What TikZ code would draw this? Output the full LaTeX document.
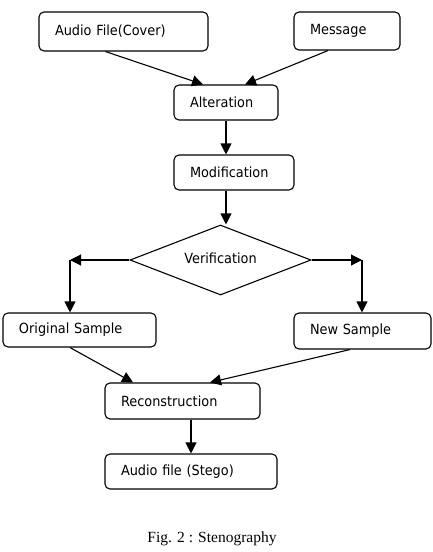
\documentclass[tikz,border=0pt]{standalone}
\usepackage{fontspec}
\setmainfont{Liberation Serif}
\newfontfamily\boxfont{DejaVu Sans}[FakeStretch=0.92]
\usepackage{tikz}
\usetikzlibrary{shapes.geometric, arrows.meta, calc}

\begin{document}
\begin{tikzpicture}[x=1pt, y=1pt,
        box/.style={draw, line width=1.1pt, rounded corners=5pt, inner xsep=16pt,
            inner ysep=0pt, text width=#1, align=left, minimum height=35pt,
            font=\boxfont\fontsize{14}{16}\selectfont},
        decision/.style={draw, line width=1.1pt, diamond, aspect=2.6, inner sep=0pt,
            minimum width=181pt, minimum height=70pt,
            font=\boxfont\fontsize{14}{16}\selectfont},
        arr/.style={line width=1.1pt, -{Triangle[length=11pt, width=11pt]}}]
    \useasboundingbox (0,0) rectangle (432,-552);
    % boxes
    \node[box=137pt, minimum height=39pt] (cover) at (123.5,-31.5) {Audio File(Cover)};
    \node[box=74pt, minimum height=38pt] (msg) at (347,-31) {Message};
    \node[box=72pt] (alter) at (226,-102.5) {Alteration};
    \node[box=88pt] (modif) at (234,-172.5) {Modification};
    \node[decision] (verif) at (220.5,-260) {\raisebox{4pt}{Verification}};
    \node[box=121pt, minimum height=34pt] (orig) at (79.5,-330) {\raisebox{-1.5pt}{Original Sample}};
    \node[box=105pt, minimum height=36pt] (newsam) at (362.5,-331) {New Sample};
    \node[box=123pt, minimum height=36pt] (recon) at (182.5,-401) {Reconstruction};
    \node[box=140pt] (stego) at (191,-471.5) {Audio file (Stego)};
    \node[font=\fontsize{15.5}{18}\selectfont] (cap) at (212,-539) {Fig. 2 : Stenography};
    \coordinate (lturn) at (70,-260);
    \coordinate (rturn) at (362,-260);
    % arrows
    \draw[arr] ([xshift=-18pt]cover.south) -- ([xshift=-23pt]alter.north);
    \draw[arr] ([xshift=-19pt]msg.south) -- ([xshift=19pt]alter.north);
    \draw[arr] (alter) -- (alter |- modif.north);
    \draw[arr] ([xshift=-8pt]modif.south) -- ([xshift=-8pt]modif.south |- verif.north);
    \draw[arr] (verif.west) -- (lturn);
    \draw[arr] (lturn) -- (lturn |- orig.north);
    \draw[arr] (verif.east) -- (rturn);
    \draw[arr] (rturn) -- (rturn |- newsam.north);
    \draw[arr] ([xshift=-9.5pt]orig.south) -- ([xshift=-49.5pt]recon.north);
    \draw[arr] ([xshift=-12.5pt]newsam.south) -- ([xshift=27.5pt]recon.north);
    \draw[arr] ([xshift=8.5pt]recon.south) -- (stego.north);
\end{tikzpicture}
\end{document}
